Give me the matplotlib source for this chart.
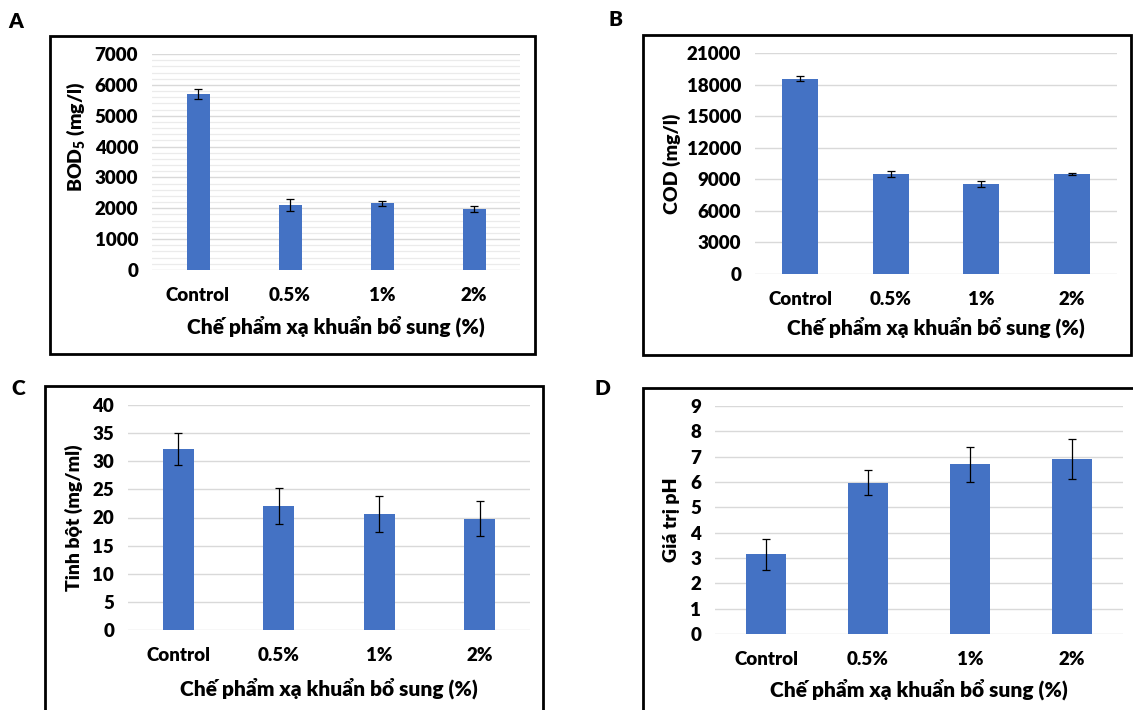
import matplotlib
matplotlib.use('Agg')
import matplotlib.pyplot as plt
from matplotlib.patches import Rectangle
import numpy as np

# ---------------- data ----------------
categories = ['Control', '0.5%', '1%', '2%']
bod5 = [5710, 2100, 2165, 1980]
bod5_err = [160, 200, 85, 95]
cod = [18560, 9500, 8580, 9500]
cod_err = [220, 260, 290, 130]
starch = [32.2, 22.1, 20.6, 19.8]
starch_err = [2.8, 3.2, 3.15, 3.15]
ph = [3.15, 5.97, 6.70, 6.90]
ph_err = [0.61, 0.50, 0.70, 0.80]

xlabel_text = 'Chế phẩm xạ khuẩn bổ sung (%)'
ylabels = [r'BOD$_{\mathbf{5}}$ (mg/l)', 'COD (mg/l)', 'Tinh bột (mg/ml)', 'Giá trị pH']
panel_letters = ['A', 'B', 'C', 'D']

# ---------------- style ----------------
WEIGHT = 'heavy'
plt.rcParams['font.family'] = ['Lato', 'DejaVu Sans']
plt.rcParams['font.weight'] = WEIGHT
plt.rcParams['mathtext.fontset'] = 'custom'
plt.rcParams['mathtext.rm'] = 'Lato:heavy'
plt.rcParams['mathtext.bf'] = 'Lato:heavy'
plt.rcParams['mathtext.it'] = 'Lato:heavy'

W, H = 1133, 710
fig = plt.figure(figsize=(W / 100, H / 100), dpi=100)
fig.patch.set_facecolor('white')

BAR = '#4472C4'


def fx(x):
    return x / W


def fy(y):
    return 1 - y / H


def add_box(l, t, r, b):
    fig.add_artist(Rectangle((fx(l), fy(b)), fx(r - l), (b - t) / H,
                             transform=fig.transFigure, fill=False,
                             edgecolor='black', linewidth=2.0, zorder=10))


panels = [
    dict(vals=bod5, err=bod5_err, ymax=7000, step=1000, minor=200, bw=0.25,
         plot=(152, 54, 520, 270), box=(50, 36, 535, 354),
         ylab=(76, 137), xlab_y=326, letter=(16, 21)),
    dict(vals=cod, err=cod_err, ymax=21000, step=3000, minor=None, bw=0.40,
         plot=(755, 53, 1117, 274), box=(643, 35, 1131, 355),
         ylab=(672, 164), xlab_y=327, letter=(615, 20)),
    dict(vals=starch, err=starch_err, ymax=40, step=5, minor=None, bw=0.31,
         plot=(128, 405, 530, 630), box=(45, 386, 543, 730),
         ylab=(74, 518), xlab_y=688, letter=(18, 388)),
    dict(vals=ph, err=ph_err, ymax=9, step=1, minor=None, bw=0.40,
         plot=(715, 406, 1123, 634), box=(643, 388, 1150, 730),
         ylab=(672, 520), xlab_y=689, letter=(602, 388)),
]

for p, ylabel, letter in zip(panels, ylabels, panel_letters):
    l, t, r, b = p['plot']
    ax = fig.add_axes([fx(l), fy(b), fx(r - l), (b - t) / H])
    x = np.arange(len(categories))
    ax.bar(x, p['vals'], width=p['bw'], color=BAR, zorder=3)
    ax.errorbar(x, p['vals'], yerr=p['err'], fmt='none', ecolor='black',
                elinewidth=0.9, capsize=3, capthick=0.9, zorder=4)
    ax.set_xlim(-0.5, len(categories) - 0.5)
    ax.set_ylim(0, p['ymax'])
    ax.set_yticks(np.arange(0, p['ymax'] + p['step'] / 2, p['step']))
    ax.set_xticks(x, categories)
    if p['minor']:
        ax.set_yticks(np.arange(0, p['ymax'] + 1, p['minor']), minor=True)
        ax.yaxis.grid(True, which='minor', color='#ebebeb', linewidth=0.9, zorder=0)
        ax.tick_params(which='minor', length=0)
    ax.yaxis.grid(True, which='major', color='#d9d9d9', linewidth=1.0, zorder=1)
    ax.set_axisbelow(True)
    for s in ax.spines.values():
        s.set_visible(False)
    ax.tick_params(axis='both', which='major', length=0, labelsize=13.5)
    ax.tick_params(axis='y', pad=10)
    ax.tick_params(axis='x', pad=12.5)
    for lbl in ax.get_xticklabels() + ax.get_yticklabels():
        lbl.set_fontweight(WEIGHT)
    ax.set_facecolor('none')

    fig.text(fx(p['ylab'][0]), fy(p['ylab'][1]), ylabel, rotation=90,
             ha='center', va='center', fontsize=14, fontweight=WEIGHT)
    fig.text(fx((l + r) / 2), fy(p['xlab_y']), xlabel_text,
             ha='center', va='center', fontsize=15, fontweight=WEIGHT)
    fig.text(fx(p['letter'][0]), fy(p['letter'][1]), letter,
             ha='center', va='center', fontsize=15, fontweight=WEIGHT)
    add_box(*p['box'])

fig.savefig('out.png', dpi=100, facecolor='white')
